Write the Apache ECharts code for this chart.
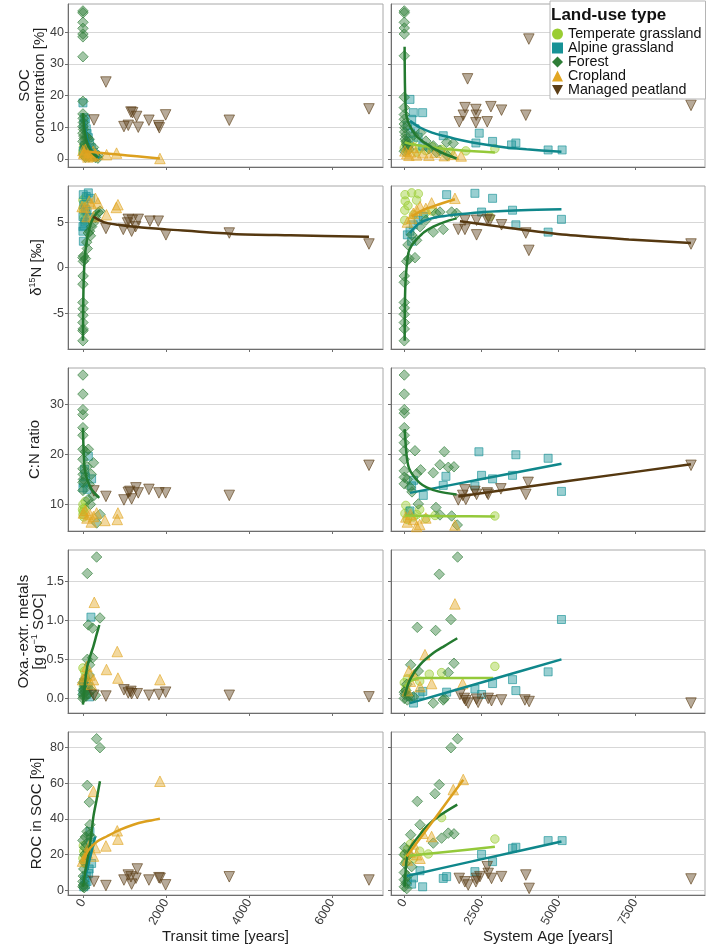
<!DOCTYPE html>
<html>
<head>
<meta charset="utf-8">
<script src="https://cdn.jsdelivr.net/npm/echarts@6/dist/echarts.min.js"></script>
<style>
  html, body { margin: 0; padding: 0; background: #fff; }
  #chart { width: 709px; height: 948px; }
</style>
</head>
<body>
<div id="chart"></div>
<script>
// ---- Row 1: SOC concentration [%] ----
// left = transit time, right = system age
const socTT_temp = [[0,2.5],[10,3.5],[20,1.8],[40,2.2],[60,1.3],[80,3.0],[30,4.0],[0,1.5],[100,1.0],[50,0.8],[15,2.8],[70,1.9]];
const socTT_alp = [[0,17.7],[30,13.0],[60,12.5],[20,11],[80,9.5],[100,8.0],[130,6.7],[160,5.0],[200,3.5],[40,4.2],[250,2.0],[300,1.2],[10,2.5],[120,1.5],[180,0.8]];
const socTT_for = [[0,46.8],[0,46.2],[0,43.2],[0,41.3],[0,39.5],[0,38.6],[0,32.3],[0,18.2],[0,14.2],[5,12.8],[10,11.5],[0,10.2],[15,9.3],[0,8.1],[20,7.2],[30,6.4],[0,5.5],[40,4.6],[60,3.8],[90,3.2],[120,2.4],[160,1.8],[200,1.2],[250,0.8],[300,0.4],[360,0.2],[60,0.5],[140,0.6],[105,6.7],[150,6.2],[253,3.6],[370,1.0]];
const socTT_crop = [[0,2.6],[20,1.6],[60,3.0],[100,1.2],[150,2.0],[200,1.0],[260,0.9],[300,1.5],[570,1.3],[810,1.8],[1855,0.1],[30,2.0],[120,0.6],[250,2.4]];
const socTT_peat = [[265,12.3],[554,24.3],[988,10.2],[1092,10.6],[1157,14.8],[1197,14.6],[1293,13.4],[1333,10.0],[1590,12.2],[1823,10.5],[1840,9.8],[1992,13.9],[3526,12.2],[6892,15.8]];
const socTT_alpFit = [[10,13],[60,9],[120,5.5],[200,3],[300,1.2],[400,0.3]];
const socTT_forFit = [[0,14.5],[40,9],[100,5.2],[180,2.8],[270,1.3],[360,0.4]];
const socTT_cropFit = [[0,2.4],[400,1.9],[850,1.35],[1300,0.8],[1855,0.1]];

const socSA_temp = [[0,3.4],[50,5.0],[150,4.2],[300,6.0],[500,3.3],[700,2.6],[900,3.8],[1200,3.0],[1500,2.2],[2000,2.5],[2944,3.2],[100,2.6],[400,2.1]];
const socSA_alp = [[185,18.8],[293,14.6],[596,14.6],[240,12.5],[100,10.5],[350,9.5],[200,8.2],[450,6.8],[1266,7.3],[2436,8.1],[2327,5.0],[2869,5.5],[3485,4.4],[3626,5.0],[4675,2.8],[5130,2.8],[150,5.5],[600,4.0]];
const socSA_for = [[0,46.8],[0,46.2],[0,43.2],[0,41.4],[0,39.5],[0,32.6],[0,19.5],[0,16.2],[0,14.0],[0,12.5],[0,11.0],[20,9.8],[10,8.5],[40,7.4],[30,6.2],[60,5.5],[80,4.6],[110,3.8],[150,3.0],[0,2.4],[531,8.3],[300,7.5],[942,4.1],[1160,2.6],[1376,5.2],[1592,4.9],[800,3.2],[1050,2.0],[1400,1.0],[700,5.6]];
const socSA_crop = [[20,2.5],[80,1.6],[293,3.6],[200,2.2],[400,1.2],[600,1.9],[800,1.1],[1000,2.0],[1300,1.0],[1600,1.4],[1850,0.9],[150,1.1]];
const socSA_peat = [[4048,37.9],[2057,25.3],[1973,16.2],[2327,15.6],[2814,16.5],[3160,15.4],[3950,13.8],[1918,13.8],[2338,13.8],[1786,11.7],[2327,11.4],[2695,11.7],[9318,16.9]];
const socSA_tempFit = [[12,5.2],[300,4.5],[942,3.6],[1800,2.7],[2944,2.0]];
const socSA_alpFit = [[185,12],[510,9.9],[900,8.3],[1266,7.3],[1900,5.8],[2565,4.6],[3300,3.6],[3972,3.0],[5108,2.2]];
const socSA_forFit = [[10,35.5],[20,24],[40,17],[80,13],[185,10.4],[350,7.7],[510,6.2],[750,4.5],[942,3.3],[1300,1.6],[1700,0.1]];

// ---- Row 2: d15N [permil] ----
const dnTT_temp = [[0,7.4],[10,6.2],[30,7.0],[20,5.5],[60,7.7],[5,6.6],[40,5.2],[80,6.0]];
const dnTT_alp = [[130,8.2],[8,8.0],[20,6.9],[0,5.6],[0,4.5],[0,4.0],[10,2.9],[100,6.2],[185,7.6],[50,5.0],[30,4.6],[80,7.8],[60,6.4],[150,5.5]];
const dnTT_for = [[0,-8.0],[0,-6.9],[5,-6.7],[0,-6.0],[0,-5.2],[5,-4.5],[0,-3.8],[0,-1.8],[5,-0.9],[10,0.7],[0,1.1],[15,1.3],[105,2.1],[130,3.8],[209,4.5],[250,4.9],[370,6.05],[410,6.2],[60,1.0],[90,2.8],[160,4.0],[300,5.5],[180,3.5]];
const dnTT_crop = [[-20,6.7],[360,7.1],[843,6.9],[803,6.6],[567,5.8],[253,5.6],[96,5.6],[40,6.6],[150,7.3],[200,7.0],[300,7.6]];
const dnTT_peat = [[554,4.3],[972,4.2],[1092,5.3],[1173,4.0],[1189,5.2],[1333,5.3],[1614,5.1],[1815,5.1],[2000,3.6],[3526,3.8],[6892,2.6],[1076,4.9],[1270,4.5]];
const dnTT_forFit = [[0,-8],[5,-5],[15,-2],[40,0.8],[80,2.6],[140,4.0],[220,5.2],[330,6.0],[410,6.3]];
const dnTT_peatFit = [[253,5.6],[500,5.0],[843,4.7],[1300,4.45],[2008,4.2],[3614,3.7],[5000,3.55],[6892,3.4]];

const dnSA_temp = [[23,8.0],[239,8.2],[456,8.1],[30,7.3],[15,6.3],[15,5.2],[400,7.4],[675,5.96],[2782,5.6],[900,6.2],[120,6.8],[300,5.8]];
const dnSA_alp = [[1376,8.0],[2295,8.15],[2869,7.6],[3518,6.3],[2511,6.1],[3626,4.7],[4675,3.9],[5108,5.3],[185,4.0],[293,4.7],[618,5.6],[240,2.9],[100,3.6],[450,5.2]];
const dnSA_for = [[0,-8.0],[0,-6.7],[0,-6.0],[0,-5.1],[0,-4.4],[0,-3.8],[0,-1.6],[0,-0.9],[77,0.7],[347,1.1],[150,1.0],[942,3.9],[1266,4.2],[1029,5.96],[1159,6.1],[1538,6.1],[1700,5.96],[510,4.5],[239,3.6],[120,2.5],[700,5.2],[400,3.0]];
const dnSA_crop = [[1646,7.6],[888,7.1],[510,6.7],[293,5.96],[240,5.4],[100,5.0],[700,6.5],[400,6.3]];
const dnSA_peat = [[1754,4.2],[1970,4.2],[2349,3.6],[1970,5.2],[2349,5.2],[2695,5.3],[2782,5.2],[3160,4.7],[3950,3.8],[4048,1.9],[9318,2.6]];
const dnSA_alpFit = [[185,3.8],[510,4.9],[1159,5.6],[2565,6.1],[3800,6.3],[5108,6.4]];
const dnSA_forFit = [[12,-8],[20,-4],[44,-1.3],[131,1.6],[250,2.5],[401,3.1],[650,3.9],[942,4.5],[1300,5.0],[1700,5.4]];
const dnSA_cropFit = [[239,5.6],[600,6.3],[1000,6.8],[1646,7.5]];
const dnSA_peatFit = [[1808,5.1],[3106,4.5],[5270,3.6],[7300,3.1],[9318,2.7]];

// ---- Row 3: C:N ratio ----
const cnTT_temp = [[0,10.0],[0,8.0],[-10,9.0],[56,10.6],[20,7.5],[40,9.3],[10,8.6]];
const cnTT_alp = [[130,19.6],[209,15.1],[0,13.3],[20,14.3],[60,15.5],[100,13.0],[40,17.0]];
const cnTT_for = [[0,35.8],[0,32.0],[0,28.9],[0,27.9],[0,25.3],[0,23.8],[0,21.0],[0,19.0],[0,17.1],[0,14.4],[0,12.8],[5,16.0],[10,15.0],[130,21.0],[253,18.3],[130,11.0],[253,11.7],[410,8.0],[330,6.3],[180,10.0],[100,17.5],[200,16.0],[60,20.5],[150,14.0]];
const cnTT_crop = [[10,8.3],[169,8.0],[330,8.3],[530,6.8],[843,8.3],[827,7.0],[96,7.3],[253,7.6],[60,8.8],[200,6.5]];
const cnTT_peat = [[265,12.7],[554,11.6],[988,10.9],[1092,12.4],[1130,12.6],[1173,11.1],[1277,13.3],[1333,12.3],[1590,13.0],[1831,12.3],[1992,12.3],[3526,11.8],[6892,17.8]];
const cnTT_forFit = [[0,25.3],[20,20],[56,16.3],[169,13.6],[280,12.2],[394,11.3]];

const cnSA_temp = [[2944,7.7],[50,9.8],[150,8.7],[300,7.5],[500,9.0],[700,7.2],[20,8.2],[100,7.0],[400,8.0],[1000,7.8]];
const cnSA_alp = [[2425,20.5],[3626,19.9],[4675,19.2],[1353,15.6],[2511,15.8],[2869,15.1],[3518,15.8],[2295,13.7],[5108,12.6],[1266,13.8],[618,11.8],[239,13.7],[185,8.7],[300,14.8]];
const cnSA_for = [[0,35.8],[0,32.0],[0,28.9],[0,28.2],[0,25.3],[0,23.8],[0,22.3],[0,20.7],[0,19.0],[0,16.7],[0,15.4],[0,14.1],[347,20.7],[1300,20.5],[1159,17.9],[1430,17.4],[1614,17.5],[942,16.3],[531,16.9],[401,16.1],[1029,9.4],[1538,7.7],[1159,7.9],[1722,5.9],[456,10.1],[185,13.4],[100,15.0],[250,12.5]];
const cnSA_crop = [[1646,5.9],[100,6.5],[300,7.0],[500,6.0],[700,7.3],[200,8.0],[400,5.6],[50,7.5]];
const cnSA_peat = [[1754,10.9],[1970,12.9],[2000,11.0],[2295,12.6],[2349,12.0],[2695,12.3],[2727,12.0],[3139,13.1],[3950,12.0],[4026,14.4],[9318,17.8],[1900,11.8]];
const cnSA_tempFit = [[12,7.8],[1500,7.65],[2944,7.6]];
const cnSA_alpFit = [[185,12.3],[2646,15.2],[5108,18.1]];
const cnSA_forFit = [[12,25],[77,19.7],[150,17.3],[293,15.7],[500,14.3],[726,13.4],[1100,12.6],[1700,12.0]];
const cnSA_peatFit = [[1754,11.6],[5500,14.8],[9318,18.0]];

// ---- Row 4: Oxa.-extr. metals [g g-1 SOC] ----
const oxTT_temp = [[0,0.39],[56,0.28],[20,0.2],[40,0.35],[10,0.15],[80,0.22]];
const oxTT_alp = [[193,1.04],[130,0.15],[50,0.1],[80,0.05],[20,0.2],[0,0.08],[160,0.02],[100,0.12]];
const oxTT_for = [[329,1.81],[105,1.60],[410,1.03],[130,0.94],[233,0.90],[233,0.52],[105,0.50],[160,0.43],[0,0.05],[10,0.1],[20,0.02],[40,0.08],[60,0.15],[80,0.03],[120,0.06],[200,0.1],[300,0.04],[0,0.2],[50,0.25],[150,0.3],[0,0.0],[30,0.12]];
const oxTT_crop = [[273,1.23],[827,0.60],[567,0.37],[843,0.26],[1855,0.24],[253,0.24],[96,0.41],[-10,0.24],[169,0.3],[200,0.18],[60,0.28]];
const oxTT_peat = [[265,0.04],[554,0.03],[988,0.11],[1092,0.07],[1173,0.06],[1309,0.06],[1590,0.04],[1831,0.05],[1992,0.08],[3526,0.04],[6892,0.02],[1157,0.09]];
const oxTT_forFit = [[0,-0.08],[50,0.2],[105,0.41],[180,0.55],[253,0.67],[330,0.82],[394,0.94]];

const oxSA_temp = [[2944,0.41],[812,0.31],[1212,0.33],[0,0.20],[293,0.28],[100,0.25],[500,0.22],[50,0.12]];
const oxSA_alp = [[5108,1.01],[4675,0.34],[3518,0.24],[3626,0.10],[2869,0.19],[2295,0.12],[2511,0.05],[1376,0.08],[510,0.05],[300,-0.06],[600,0.09],[200,0.02]];
const oxSA_for = [[1732,1.81],[1137,1.59],[1516,1.01],[423,0.91],[1018,0.87],[1614,0.45],[207,0.43],[1429,0.33],[456,0.35],[942,-0.06],[1266,-0.02],[0,0.0],[20,0.05],[50,0.1],[100,-0.02],[150,0.03],[80,0.18],[0,0.08],[300,0.02],[1300,0.0]];
const oxSA_crop = [[1646,1.21],[672,0.56],[1896,0.19],[293,0.30],[888,0.19],[510,0.15],[150,0.35],[200,0.22],[100,0.1]];
const oxSA_peat = [[1808,0.05],[2000,-0.03],[2077,-0.06],[2349,-0.01],[2400,-0.05],[2727,0.0],[2835,-0.03],[3160,-0.02],[3920,-0.02],[4058,-0.04],[9318,-0.06],[1950,0.0]];
const oxSA_tempFit = [[12,0.15],[200,0.22],[510,0.26],[1500,0.26],[2890,0.26]];
const oxSA_alpFit = [[185,-0.06],[2646,0.22],[5108,0.50]];
const oxSA_forFit = [[12,0.03],[185,0.24],[510,0.43],[942,0.58],[1300,0.67],[1722,0.77]];

// ---- Row 5: ROC in SOC [%] ----
const rocTT_temp = [[0,18],[20,22],[50,15],[10,25],[40,20]];
const rocTT_alp = [[169,33],[209,15.1],[137,9.5],[100,5],[60,3],[20,2],[180,27],[150,12],[80,8],[40,6]];
const rocTT_for = [[329,85.0],[410,80.0],[105,58.9],[153,49.5],[169,36.8],[0,2],[0,5],[10,8],[20,12],[30,16],[40,20],[50,24],[0,28],[60,30],[80,26],[100,33],[120,22],[10,3],[30,1.5],[140,31],[200,30]];
const rocTT_crop = [[1855,61.2],[253,55.5],[827,33.4],[843,28.7],[554,24.9],[297,23.9],[253,19.2],[-10,16.4],[50,18],[100,21],[150,25]];
const rocTT_peat = [[265,5.0],[554,2.7],[988,5.8],[1092,8.6],[1157,7.6],[1173,3.5],[1309,12.0],[1277,6.8],[1590,5.8],[1831,7.1],[1860,6.8],[1992,3.1],[3526,7.6],[6892,5.8]];
const rocTT_alpFit = [[0,3.9],[70,9],[137,15.1],[220,23],[297,30.2]];
const rocTT_forFit = [[0,2],[60,11],[137,20.8],[200,31],[253,41.5],[330,51],[410,61.2]];
const rocTT_cropFit = [[0,16.1],[80,20.5],[169,23.6],[350,27.5],[570,30.2],[900,34],[1213,36.8],[1500,38.6],[1855,40.2]];

const rocSA_temp = [[2944,28.8],[1212,40.8],[780,20.4],[12,20.4],[100,23],[300,18],[500,22],[200,26],[50,16]];
const rocSA_alp = [[5130,27.9],[4675,27.9],[3626,24.2],[3518,23.6],[2511,20.2],[2869,16.1],[2295,10.5],[1376,7.7],[1266,6.7],[510,11.0],[596,2.0],[239,3.5],[100,5],[300,7]];
const rocSA_for = [[1732,85.0],[1516,80.0],[1137,59.3],[997,54.2],[423,49.9],[1429,32.1],[1614,31.7],[1212,29.3],[510,36.8],[207,31.2],[942,26.5],[239,13.3],[0,2],[0,6],[0,10],[20,15],[0,20],[10,24],[50,4],[100,8],[150,20],[80,1]];
const rocSA_crop = [[1916,62.2],[1592,56.5],[888,30.2],[600,32],[510,18.0],[185,21.5],[300,26],[100,17],[400,20]];
const rocSA_peat = [[1786,6.7],[1970,4.8],[2077,3.0],[2349,6.7],[2457,7.7],[2695,13.3],[2727,9.5],[2835,6.7],[3160,7.7],[3950,8.6],[4058,1.1],[9318,6.4],[2327,4.8]];
const rocSA_tempFit = [[12,19.1],[1500,21.8],[2944,24.4]];
const rocSA_alpFit = [[77,8.1],[2600,17.8],[5108,27.4]];
const rocSA_forFit = [[12,2],[40,10],[77,17],[150,22.5],[293,26.5],[500,31],[726,35.9],[1200,42.5],[1722,48.1]];
const rocSA_cropFit = [[77,19],[1000,40.5],[1916,62]];

// tick labels
const transitTicks = [0, 2000, 4000, 6000];
const ageTicks = [0, 2500, 5000, 7500];

// groups: temperate, alpine, forest, cropland, peatland
const GROUPS = [
  { name: 'Temperate grassland', rgb: '154,205,50', line: '#94c93a', symbol: 'circle', size: 8.5, icon: 'circle' },
  { name: 'Alpine grassland', rgb: '23,146,150', line: '#0f878b', symbol: 'rect', size: 8, icon: 'rect' },
  { name: 'Forest', rgb: '46,125,55', line: '#247a30', symbol: 'diamond', size: 10.5, icon: 'diamond' },
  { name: 'Cropland', rgb: '226,166,34', line: '#dca01e', symbol: 'triangle', size: 10.5, icon: 'triangle' },
  { name: 'Managed peatland', rgb: '92,62,22', line: '#553810', symbol: 'triangle', rotate: 180, size: 10.5, icon: 'path://M0,0L10,0L5,9Z' },
];

const panels = [
  { pts: [socTT_temp, socTT_alp, socTT_for, socTT_crop, socTT_peat], fits: [null, socTT_alpFit, socTT_forFit, socTT_cropFit, null] },
  { pts: [socSA_temp, socSA_alp, socSA_for, socSA_crop, socSA_peat], fits: [socSA_tempFit, socSA_alpFit, socSA_forFit, null, null] },
  { pts: [dnTT_temp, dnTT_alp, dnTT_for, dnTT_crop, dnTT_peat], fits: [null, null, dnTT_forFit, null, dnTT_peatFit] },
  { pts: [dnSA_temp, dnSA_alp, dnSA_for, dnSA_crop, dnSA_peat], fits: [null, dnSA_alpFit, dnSA_forFit, dnSA_cropFit, dnSA_peatFit] },
  { pts: [cnTT_temp, cnTT_alp, cnTT_for, cnTT_crop, cnTT_peat], fits: [null, null, cnTT_forFit, null, null] },
  { pts: [cnSA_temp, cnSA_alp, cnSA_for, cnSA_crop, cnSA_peat], fits: [cnSA_tempFit, cnSA_alpFit, cnSA_forFit, null, cnSA_peatFit] },
  { pts: [oxTT_temp, oxTT_alp, oxTT_for, oxTT_crop, oxTT_peat], fits: [null, null, oxTT_forFit, null, null] },
  { pts: [oxSA_temp, oxSA_alp, oxSA_for, oxSA_crop, oxSA_peat], fits: [oxSA_tempFit, oxSA_alpFit, oxSA_forFit, null, null] },
  { pts: [rocTT_temp, rocTT_alp, rocTT_for, rocTT_crop, rocTT_peat], fits: [null, rocTT_alpFit, rocTT_forFit, rocTT_cropFit, null] },
  { pts: [rocSA_temp, rocSA_alp, rocSA_for, rocSA_crop, rocSA_peat], fits: [rocSA_tempFit, rocSA_alpFit, rocSA_forFit, rocSA_cropFit, null] },
];

const FONT = '"Liberation Sans", Arial, sans-serif';
const rows = [
  { min: -2.6, max: 49, ticks: [0, 10, 20, 30, 40], name: 'SOC\nconcentration [%]', gap: 21 },
  { min: -8.9, max: 8.95, ticks: [-5, 0, 5], name: '{a|δ}{s|15}{a|N [‰]}', gap: 24 },
  { min: 4.7, max: 37.2, ticks: [10, 20, 30], name: 'C:N ratio', gap: 26 },
  { min: -0.187, max: 1.9, ticks: [0, 0.5, 1, 1.5], name: '{a|Oxa.-extr. metals}\n{a|[g g}{s|−1}{a| SOC]}', gap: 22, fmt: v => v.toFixed(1) },
  { min: -2.6, max: 88.8, ticks: [0, 20, 40, 60, 80], name: 'ROC in SOC [%]', gap: 24 },
];
const rowTop = [4, 186, 368, 550, 732];
const colLeft = [68, 391];
const colW = [315, 314];
const panelH = 163;

const grid = [], xAxis = [], yAxis = [], series = [];
const axisCol = '#6e6e6e';

rows.forEach((r, ri) => {
  [0, 1].forEach(ci => {
    const gi = ri * 2 + ci;
    const last = ri === rows.length - 1;
    grid.push({ left: colLeft[ci], top: rowTop[ri], width: colW[ci], height: panelH,
      show: true, borderColor: '#a8a8a8', borderWidth: 1, backgroundColor: '#fff' });
    const xt = ci === 0 ? transitTicks : ageTicks;
    xAxis.push({
      type: 'value', gridIndex: gi,
      min: ci === 0 ? -360 : -432, max: ci === 0 ? 7230 : 9773,
      axisLine: { show: true, onZero: false, lineStyle: { color: axisCol, width: 1 } },
      axisTick: { show: true, length: 3, customValues: xt, lineStyle: { color: axisCol } },
      splitLine: { show: false },
      axisLabel: { show: last, customValues: xt, rotate: 60, margin: 5, fontFamily: FONT, fontSize: 12.5, color: '#3c3c3c',
        formatter: v => String(v) },
      name: last ? (ci === 0 ? 'Transit time [years]' : 'System Age [years]') : '',
      nameLocation: 'middle', nameGap: 34, nameMoveOverlap: false,
      nameTextStyle: { fontFamily: FONT, fontSize: 15, color: '#1e1e1e' },
    });
    yAxis.push({
      type: 'value', gridIndex: gi, min: r.min, max: r.max,
      axisLine: { show: true, onZero: false, lineStyle: { color: axisCol, width: 1 } },
      axisTick: { show: true, length: 3, customValues: r.ticks, lineStyle: { color: axisCol } },
      splitLine: { show: true, lineStyle: { color: '#d7d7d7', width: 1.2 } },
      axisLabel: { show: ci === 0, customValues: r.ticks, margin: 4, fontFamily: FONT, fontSize: 12.5, color: '#3c3c3c',
        formatter: r.fmt || (v => String(v)) },
      name: ci === 0 ? r.name : '',
      nameLocation: 'middle', nameRotate: 90, nameGap: r.gap, nameMoveOverlap: false,
      nameTextStyle: { fontFamily: FONT, fontSize: 15, color: '#1e1e1e', lineHeight: 15,
        rich: { a: { fontFamily: FONT, fontSize: 15, color: '#1e1e1e', lineHeight: 15 },
                s: { fontFamily: FONT, fontSize: 9, color: '#1e1e1e', verticalAlign: 'bottom', padding: [0, 0, 7, 0] } } },
    });
    const p = panels[gi];
    GROUPS.forEach((g, k) => {
      if (!p.pts[k]) return;
      series.push({
        name: g.name, type: 'scatter', xAxisIndex: gi, yAxisIndex: gi, data: p.pts[k],
        symbol: g.symbol, symbolSize: g.size, symbolRotate: g.rotate || 0,
        itemStyle: { color: 'rgba(' + g.rgb + ',0.55)', borderColor: 'rgba(' + g.rgb + ',0.8)', borderWidth: 1 },
        emphasis: { disabled: true }, z: 2,
      });
    });
    GROUPS.forEach((g, k) => {
      if (!p.fits[k]) return;
      series.push({
        name: g.name + ' fit', type: 'line', xAxisIndex: gi, yAxisIndex: gi, data: p.fits[k],
        smooth: 0.3, showSymbol: false, silent: true,
        lineStyle: { color: g.line, width: 2.5 }, emphasis: { disabled: true }, z: 3,
      });
    });
  });
});

const chart = echarts.init(document.getElementById('chart'));
chart.setOption({
  animation: false,
  backgroundColor: '#fff',
  title: { text: 'Land-use type', left: 551, top: 7, padding: 0,
    textStyle: { fontFamily: FONT, fontSize: 17, fontWeight: 'bold', color: '#111' } },
  legend: {
    orient: 'vertical', left: 550, top: 1, padding: [26, 4, 2, 2],
    itemWidth: 11, itemHeight: 11, itemGap: 0,
    borderColor: '#b5b5b5', borderWidth: 1, backgroundColor: '#fff',
    textStyle: { fontFamily: FONT, fontSize: 14.3, color: '#111', lineHeight: 14 },
    data: GROUPS.map(g => ({ name: g.name, icon: g.icon,
      itemStyle: { color: 'rgb(' + g.rgb + ')', borderWidth: 0, opacity: 1 } })),
    selectedMode: false,
  },
  grid, xAxis, yAxis, series,
});
</script>
</body>
</html>
